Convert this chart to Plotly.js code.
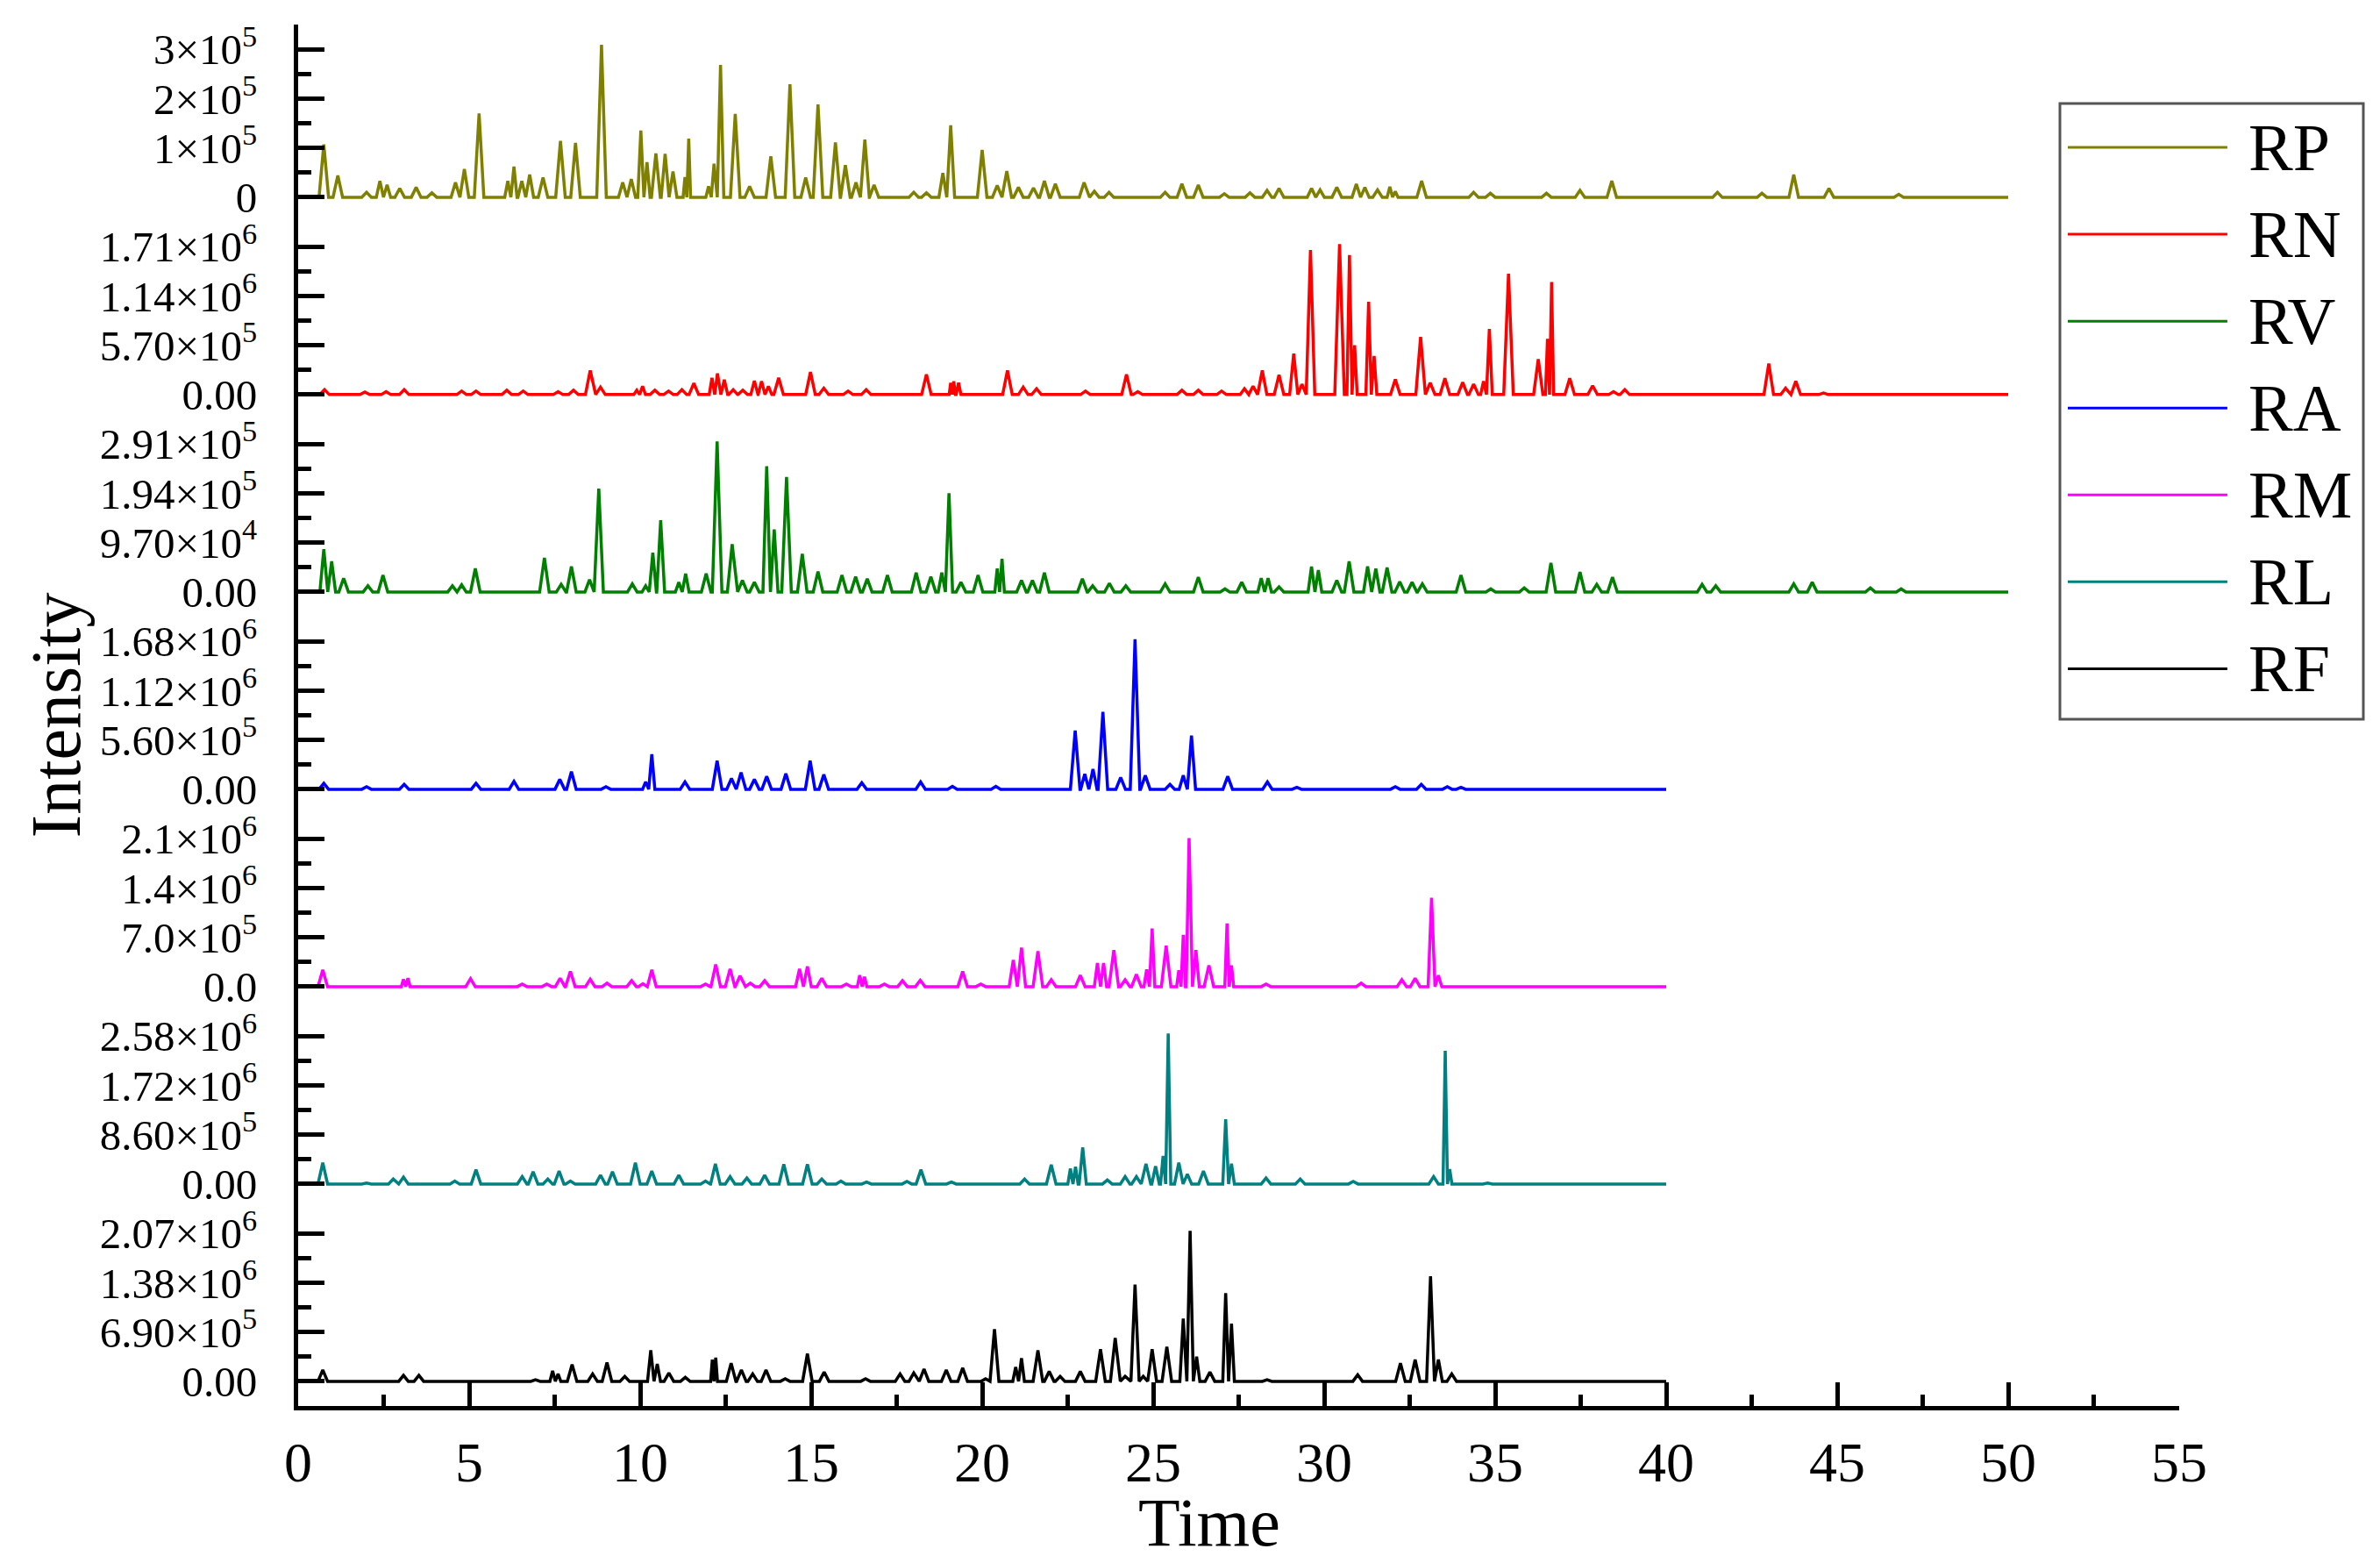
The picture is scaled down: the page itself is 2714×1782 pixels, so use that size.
<!DOCTYPE html>
<html>
<head>
<meta charset="utf-8">
<script src="https://cdn.plot.ly/plotly-3.0.1.min.js"></script>
<style>
  html, body { margin: 0; padding: 0; background: #fff; }
</style>
</head>
<body>
<div id="chromatogram" style="width:2714px;height:1782px;"></div>
<script>
// peak apex times (min) and intensities
const rpTime = [0.75, 1.16, 2.0, 2.39, 2.6, 2.97, 3.45, 3.91, 4.6, 4.86, 5.29, 6.13, 6.31, 6.54, 6.77, 7.16, 7.67, 8.11, 8.87, 9.49, 9.74, 10.02, 10.2, 10.46, 10.73, 10.96, 11.31, 11.42, 12.0, 12.16, 12.35, 12.78, 13.2, 13.82, 14.38, 14.84, 15.2, 15.71, 16.0, 16.31, 16.57, 16.84, 18.0, 18.37, 18.85, 19.08, 20.0, 20.44, 20.72, 21.06, 21.5, 21.82, 22.14, 22.98, 23.28, 23.71, 25.35, 25.84, 26.32, 27.08, 27.83, 28.33, 28.68, 29.63, 29.88, 30.37, 30.94, 31.19, 31.56, 31.92, 32.08, 32.85, 34.37, 34.86, 36.5, 37.48, 38.41, 41.5, 42.8, 43.73, 44.76, 46.8];
const rpIntensity = [107000, 44000, 10000, 33000, 25000, 18000, 20000, 9000, 30000, 57000, 170000, 33000, 62000, 33000, 46000, 40000, 114000, 110000, 309000, 30000, 37000, 135000, 71000, 89000, 88000, 52000, 41000, 119000, 22000, 68000, 268000, 169000, 22000, 83000, 229000, 40000, 188000, 111000, 65000, 30000, 117000, 25000, 10000, 9000, 49000, 146000, 96000, 24000, 53000, 20000, 19000, 33000, 27000, 30000, 12000, 10000, 10000, 27000, 25000, 7000, 9000, 14000, 18000, 18000, 15000, 20000, 27000, 20000, 15000, 21000, 12000, 33000, 10000, 8000, 8000, 14000, 33000, 10000, 8000, 46000, 18000, 6000];

const rnTime = [0.77, 1.95, 2.57, 3.1, 4.78, 5.2, 6.1, 6.58, 7.6, 8.05, 8.54, 8.84, 9.9, 10.07, 10.43, 10.83, 11.22, 11.57, 12.1, 12.26, 12.46, 12.72, 13.0, 13.34, 13.55, 13.75, 14.05, 14.98, 15.37, 16.08, 16.61, 18.37, 19.08, 19.17, 19.31, 20.74, 21.2, 21.59, 23.02, 24.22, 24.55, 25.84, 26.32, 27.0, 27.67, 27.92, 28.19, 28.68, 29.11, 29.35, 29.6, 30.45, 30.74, 30.89, 31.3, 31.46, 32.08, 32.82, 33.1, 33.53, 34.05, 34.37, 34.66, 34.83, 35.39, 36.26, 36.53, 36.65, 37.18, 37.85, 38.46, 38.79, 43.0, 43.49, 43.79, 44.6];
const rnIntensity = [57000, 28500, 34200, 57000, 40000, 40000, 51000, 40000, 34000, 51000, 279000, 86000, 51000, 97000, 51000, 40000, 57000, 131000, 194000, 245000, 171000, 57000, 51000, 160000, 154000, 97000, 194000, 262000, 74000, 40000, 57000, 234000, 137000, 154000, 137000, 279000, 86000, 68000, 40000, 234000, 34000, 51000, 51000, 40000, 68000, 97000, 279000, 228000, 473000, 120000, 1670000, 1739000, 1613000, 570000, 1072000, 445000, 177000, 667000, 137000, 188000, 143000, 120000, 154000, 758000, 1397000, 410000, 644000, 1300000, 188000, 103000, 34000, 57000, 359000, 74000, 154000, 17000];

const rvTime = [0.75, 0.98, 1.33, 2.04, 2.48, 4.51, 4.78, 5.18, 7.2, 7.69, 7.99, 8.52, 8.79, 9.77, 10.16, 10.37, 10.6, 11.13, 11.33, 11.93, 12.25, 12.69, 12.99, 13.34, 13.7, 13.92, 14.28, 14.74, 15.2, 15.9, 16.3, 16.64, 17.23, 18.07, 18.5, 18.82, 19.03, 19.38, 19.88, 20.44, 20.58, 21.15, 21.47, 21.82, 22.93, 23.23, 23.72, 24.2, 25.35, 26.32, 27.1, 27.59, 28.16, 28.36, 28.68, 29.63, 29.83, 30.37, 30.73, 31.27, 31.51, 31.84, 32.21, 32.57, 32.87, 34.0, 34.87, 35.85, 36.63, 37.48, 37.97, 38.43, 41.05, 41.45, 43.73, 44.27, 45.97, 46.87];
const rvIntensity = [84000, 60000, 27000, 12000, 33000, 12000, 14000, 46000, 67000, 15000, 50000, 24000, 203000, 16000, 12000, 77000, 141000, 19000, 36000, 36000, 296000, 94000, 23000, 19000, 247000, 123000, 226000, 75000, 40000, 33000, 30000, 26000, 33000, 38000, 30000, 38000, 194000, 19000, 33000, 46000, 65000, 23000, 23000, 38000, 26000, 12000, 17000, 12000, 16000, 29000, 6000, 19000, 27000, 27000, 10000, 50000, 43000, 23000, 60000, 50000, 46000, 48000, 20000, 19000, 16000, 33000, 6000, 8000, 57000, 39000, 15000, 29000, 15000, 12000, 16000, 19000, 8000, 6000];

const raTime = [0.75, 2.0, 3.1, 5.2, 6.31, 7.65, 7.99, 9.0, 10.16, 10.34, 11.31, 12.25, 12.67, 12.95, 13.34, 13.7, 14.26, 14.97, 15.37, 16.48, 18.2, 19.13, 20.4, 22.72, 23.0, 23.24, 23.53, 24.05, 24.47, 24.77, 25.49, 25.88, 26.12, 27.18, 28.34, 29.2, 32.08, 32.84, 33.6, 34.0];
const raIntensity = [67000, 28000, 56000, 67000, 90000, 112000, 202000, 28000, 84000, 398000, 84000, 325000, 123000, 190000, 112000, 146000, 179000, 325000, 168000, 73000, 84000, 34000, 34000, 666000, 174000, 230000, 879000, 134000, 1702000, 157000, 56000, 157000, 610000, 146000, 84000, 22000, 28000, 56000, 28000, 22000];

const rmTime = [0.72, 3.08, 3.21, 5.04, 6.55, 7.27, 7.66, 7.96, 8.54, 9.03, 9.75, 10.08, 10.34, 11.91, 12.21, 12.63, 12.92, 13.22, 13.64, 14.66, 14.89, 15.31, 16.03, 16.42, 16.56, 17.14, 17.67, 18.19, 19.43, 19.96, 20.91, 21.15, 21.63, 22.02, 22.87, 23.37, 23.55, 23.85, 24.18, 24.51, 24.81, 24.97, 25.38, 25.75, 25.88, 26.05, 26.25, 26.63, 27.16, 27.29, 28.3, 31.08, 32.27, 32.66, 33.14, 33.34];
const rmIntensity = [238000, 105000, 119000, 112000, 35000, 35000, 119000, 217000, 105000, 49000, 84000, 42000, 238000, 35000, 315000, 252000, 154000, 49000, 84000, 252000, 287000, 119000, 35000, 161000, 140000, 35000, 84000, 91000, 217000, 35000, 378000, 553000, 504000, 98000, 161000, 336000, 336000, 518000, 98000, 175000, 245000, 826000, 581000, 231000, 735000, 2107000, 518000, 301000, 896000, 301000, 35000, 49000, 98000, 119000, 1260000, 161000];

const rlTime = [0.72, 2.0, 2.78, 3.08, 4.58, 5.2, 6.55, 6.87, 7.3, 7.63, 7.96, 8.84, 9.19, 9.86, 10.34, 11.13, 11.91, 12.2, 12.63, 13.12, 13.64, 14.2, 14.89, 15.31, 15.87, 16.62, 17.8, 18.21, 19.1, 21.24, 22.02, 22.58, 22.73, 22.94, 23.66, 24.18, 24.51, 24.79, 25.07, 25.29, 25.44, 25.75, 26.0, 26.47, 27.12, 27.29, 28.3, 29.3, 30.85, 33.2, 33.54, 33.67, 34.78];
const rlIntensity = [370000, 17000, 86000, 120000, 52000, 249000, 129000, 215000, 86000, 224000, 52000, 155000, 215000, 370000, 224000, 155000, 52000, 353000, 129000, 103000, 155000, 344000, 344000, 86000, 52000, 34000, 43000, 249000, 34000, 86000, 335000, 267000, 301000, 636000, 69000, 129000, 129000, 353000, 310000, 490000, 2623000, 370000, 172000, 224000, 1127000, 353000, 103000, 86000, 43000, 129000, 2322000, 258000, 17000];

const rfTime = [0.72, 3.08, 3.53, 6.94, 7.44, 7.6, 8.01, 8.61, 9.03, 9.55, 10.31, 10.5, 10.84, 11.32, 12.11, 12.21, 12.66, 12.96, 13.29, 13.68, 14.24, 14.89, 15.38, 16.59, 17.6, 18.0, 18.3, 18.95, 19.43, 20.1, 20.36, 20.98, 21.15, 21.63, 21.96, 22.28, 22.87, 23.46, 23.89, 24.18, 24.47, 24.71, 24.97, 25.4, 25.88, 26.08, 26.27, 26.66, 27.12, 27.29, 28.33, 30.98, 32.23, 32.66, 33.11, 33.34, 33.73];
const rfIntensity = [159000, 83000, 83000, 21000, 145000, 104000, 235000, 104000, 262000, 69000, 435000, 242000, 117000, 55000, 304000, 331000, 255000, 159000, 104000, 159000, 35000, 386000, 131000, 35000, 104000, 117000, 173000, 159000, 186000, 35000, 731000, 200000, 324000, 435000, 138000, 69000, 138000, 449000, 607000, 69000, 1352000, 69000, 449000, 483000, 876000, 2105000, 345000, 131000, 1235000, 807000, 21000, 90000, 255000, 304000, 1470000, 304000, 104000];

const seriesNames = ['RP', 'RN', 'RV', 'RA', 'RM', 'RL', 'RF'];
const seriesColors = ['#808000', '#ff0000', '#008000', '#0000ff', '#ff00ff', '#008080', '#000000'];
const seriesTimes = [rpTime, rnTime, rvTime, raTime, rmTime, rlTime, rfTime];
const seriesIntensities = [rpIntensity, rnIntensity, rvIntensity, raIntensity, rmIntensity, rlIntensity, rfIntensity];
const seriesRunEnd = [50, 50, 50, 40, 40, 40, 40];

// y tick step of each stacked panel and its labels
const panelTickStep = [1e5, 5.7e5, 9.7e4, 5.6e5, 7e5, 8.6e5, 6.9e5];
const panelTickText = [
  ['0', '1×10<sup>5</sup>', '2×10<sup>5</sup>', '3×10<sup>5</sup>'],
  ['0.00', '5.70×10<sup>5</sup>', '1.14×10<sup>6</sup>', '1.71×10<sup>6</sup>'],
  ['0.00', '9.70×10<sup>4</sup>', '1.94×10<sup>5</sup>', '2.91×10<sup>5</sup>'],
  ['0.00', '5.60×10<sup>5</sup>', '1.12×10<sup>6</sup>', '1.68×10<sup>6</sup>'],
  ['0.0', '7.0×10<sup>5</sup>', '1.4×10<sup>6</sup>', '2.1×10<sup>6</sup>'],
  ['0.00', '8.60×10<sup>5</sup>', '1.72×10<sup>6</sup>', '2.58×10<sup>6</sup>'],
  ['0.00', '6.90×10<sup>5</sup>', '1.38×10<sup>6</sup>', '2.07×10<sup>6</sup>'],
];

const serif = 'Liberation Serif, Times New Roman, serif';

// baseline -> apex -> baseline for each peak, run starts and ends on baseline
function peakLine(times, heights, runEnd) {
  const x = [0];
  const y = [0];
  for (let i = 0; i < times.length; i++) {
    const before = i > 0 ? (times[i] - times[i - 1]) / 2 : 0.14;
    const after = i < times.length - 1 ? (times[i + 1] - times[i]) / 2 : 0.14;
    const w = Math.min(0.14, before, after);
    x.push(times[i] - w, times[i], times[i] + w);
    y.push(0, heights[i], 0);
  }
  x.push(runEnd);
  y.push(0);
  return { x: x, y: y };
}

const nPanels = seriesNames.length;
const data = seriesNames.map((name, i) => {
  const line = peakLine(seriesTimes[i], seriesIntensities[i], seriesRunEnd[i]);
  return {
    x: line.x,
    y: line.y,
    name: name,
    type: 'scatter',
    mode: 'lines',
    xaxis: 'x',
    yaxis: i === 0 ? 'y' : 'y' + (i + 1),
    line: { color: seriesColors[i], width: 3.5 },
    showlegend: false,
    hoverinfo: 'x+y+name',
  };
});

const layout = {
  width: 2714,
  height: 1782,
  margin: { l: 340, r: 229, t: 28, b: 179 },
  paper_bgcolor: '#ffffff',
  plot_bgcolor: '#ffffff',
  showlegend: false,
  font: { family: serif, color: '#000000' },
  xaxis: {
    domain: [0, 1],
    anchor: 'y' + nPanels,
    range: [0, 55],
    tickmode: 'linear',
    tick0: 0,
    dtick: 5,
    ticks: 'inside',
    ticklen: 27,
    tickwidth: 5,
    tickcolor: '#000000',
    minor: { tickmode: 'linear', tick0: 0, dtick: 2.5, ticks: 'inside', ticklen: 13, tickwidth: 5, tickcolor: '#000000' },
    showline: true,
    linewidth: 5,
    linecolor: '#000000',
    showgrid: false,
    zeroline: false,
    tickfont: { size: 64, family: serif },
    ticklabelstandoff: 4,
  },
  shapes: [],
  annotations: [
    {
      text: 'Intensity',
      xref: 'paper',
      yref: 'paper',
      x: -0.1287,
      y: 0.5,
      textangle: -90,
      showarrow: false,
      xanchor: 'center',
      yanchor: 'middle',
      font: { size: 80, family: serif },
    },
    {
      text: 'Time',
      xref: 'paper',
      yref: 'paper',
      x: 0.4844,
      y: -0.0844,
      showarrow: false,
      xanchor: 'center',
      yanchor: 'middle',
      font: { size: 78, family: serif },
    },
  ],
};

// one stacked y axis per sample, zero sits half a tick above the panel floor
panelTickStep.forEach((step, k) => {
  const key = k === 0 ? 'yaxis' : 'yaxis' + (k + 1);
  layout[key] = {
    domain: [(nPanels - 1 - k) / nPanels, (nPanels - k) / nPanels],
    anchor: 'x',
    range: [-0.5 * step, 3.5 * step],
    tickmode: 'array',
    tickvals: [0, step, 2 * step, 3 * step],
    ticktext: panelTickText[k],
    ticks: 'inside',
    ticklen: 30,
    tickwidth: 5,
    tickcolor: '#000000',
    minor: {
      tickmode: 'array',
      tickvals: [-0.5 * step, 0.5 * step, 1.5 * step, 2.5 * step, 3.5 * step],
      ticks: 'inside',
      ticklen: 15,
      tickwidth: 5,
      tickcolor: '#000000',
    },
    showline: true,
    linewidth: 5,
    linecolor: '#000000',
    showgrid: false,
    zeroline: false,
    tickfont: { size: 49, family: serif },
    ticklabelstandoff: 32,
  };
});

// legend box drawn by hand so the sample lines are as long as in the figure
const legendLeft = 0.9366;
const legendRight = 1.0979;
const legendTop = 0.9429;
const legendBottom = 0.4971;
const legendRowTop = 0.9111;
const legendRowGap = 0.0629;
layout.shapes.push({
  type: 'rect',
  xref: 'paper',
  yref: 'paper',
  x0: legendLeft,
  x1: legendRight,
  y0: legendBottom,
  y1: legendTop,
  line: { color: '#555555', width: 3 },
  fillcolor: '#ffffff',
  layer: 'below',
});
seriesNames.forEach((name, i) => {
  const rowY = legendRowTop - i * legendRowGap;
  layout.shapes.push({
    type: 'line',
    xref: 'paper',
    yref: 'paper',
    x0: 0.9408,
    x1: 1.0256,
    y0: rowY,
    y1: rowY,
    line: { color: seriesColors[i], width: 3 },
  });
  layout.annotations.push({
    text: name,
    xref: 'paper',
    yref: 'paper',
    x: 1.0359,
    y: rowY,
    xanchor: 'left',
    yanchor: 'middle',
    showarrow: false,
    font: { size: 76, family: serif },
  });
});

Plotly.newPlot('chromatogram', data, layout, { staticPlot: true });
</script>
</body>
</html>
